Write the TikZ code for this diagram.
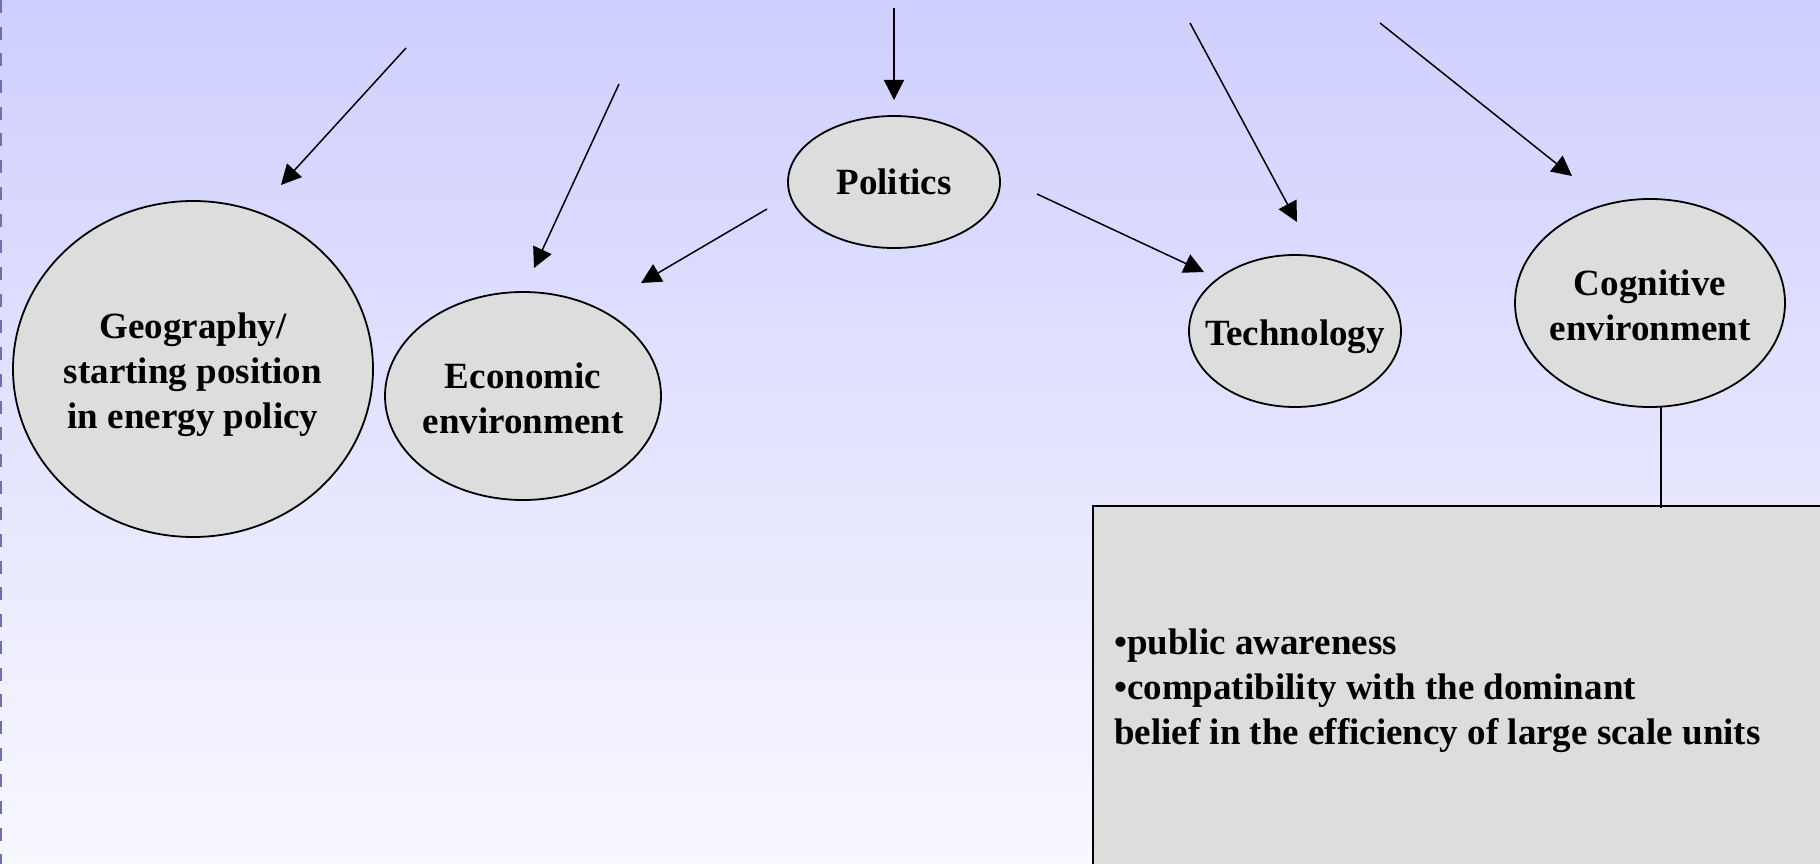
\documentclass[tikz,border=0pt]{standalone}
\usepackage{fontspec}
\setmainfont{Liberation Serif}
\usetikzlibrary{shapes.geometric,arrows.meta}

\definecolor{bgtop}{HTML}{CFCFFF}
\definecolor{bgbottom}{HTML}{F8F8FF}
\definecolor{nodefill}{HTML}{DDDDDD}
\definecolor{edgedash}{HTML}{7070B0}

\newcommand{\captionfont}{\bfseries\fontsize{37}{45}\selectfont}

\tikzset{
  factor/.style={ellipse, draw=black, line width=1.8pt, fill=nodefill,
    inner sep=0pt},
  factortext/.style={align=center, inner sep=0pt, font=\captionfont},
  influence/.style={line width=1.5pt,
    -{Triangle[length=20pt,width=20pt]}},
  plain/.style={line width=1.5pt},
}

\begin{document}
\begin{tikzpicture}[x=1pt,y=-1pt]
  \useasboundingbox (0,0) rectangle (1820,864);
  \clip (0,0) rectangle (1820,864);

  % background
  \shade[top color=bgtop, bottom color=bgbottom] (0,0) rectangle (1820,864);
  \draw[edgedash, line width=2.5pt, dash pattern=on 13pt off 13.7pt] (1.2,0) -- (1.2,864);

  % factors
  \node[factor, minimum width=360pt, minimum height=336pt,
        label={[factortext, yshift=-6pt]center:{Geography/\\starting position\\in energy policy}}]
        (geo) at (193,369) {};
  \node[factor, minimum width=276pt, minimum height=208pt,
        label={[factortext, yshift=-2pt]center:{Economic\\environment}}]
        (eco) at (523,396) {};
  \node[factor, minimum width=212pt, minimum height=132pt,
        label={[factortext]center:{Politics}}]
        (pol) at (894,182) {};
  \node[factor, minimum width=212pt, minimum height=152pt,
        label={[factortext, yshift=-5.5pt]center:{Technology}}]
        (tech) at (1295,331) {};
  \node[factor, minimum width=270pt, minimum height=208pt,
        label={[factortext, yshift=-2pt]center:{Cognitive\\environment}}]
        (cog) at (1650,303) {};

  % detail box for the cognitive environment
  \node[draw=black, line width=1.8pt, fill=nodefill, rectangle,
        minimum width=760pt, minimum height=400pt, anchor=north west,
        inner sep=0pt] (box) at (1092,505) {};
  \node[anchor=west, align=left, inner sep=0pt, font=\captionfont]
        (boxtext) at (1114,690.5)
    {•public awareness\\
     •compatibility with the dominant\\
     belief in the efficiency of large scale units};

  % arrow ends
  \coordinate (a1s) at (406,48);   \coordinate (a1e) at (281,185);
  \coordinate (a2s) at (619,84);   \coordinate (a2e) at (534,268);
  \coordinate (a3s) at (894,8);    \coordinate (a3e) at (894,100);
  \coordinate (a4s) at (1190,23);  \coordinate (a4e) at (1297,222);
  \coordinate (a5s) at (1380,23);  \coordinate (a5e) at (1572,176);
  \coordinate (a6s) at (767,209);  \coordinate (a6e) at (641,283);
  \coordinate (a7s) at (1037,194); \coordinate (a7e) at (1204,272);
  \coordinate (cogl) at (1661,407);

  \draw[influence] (a1s) -- (a1e);
  \draw[influence] (a2s) -- (a2e);
  \draw[influence] (a3s) -- (a3e);
  \draw[influence] (a4s) -- (a4e);
  \draw[influence] (a5s) -- (a5e);
  \draw[influence] (a6s) -- (a6e);
  \draw[influence] (a7s) -- (a7e);

  % link from the cognitive environment to its box
  \draw[plain] (cogl) -- ([yshift=-3pt]cogl |- box.north);
\end{tikzpicture}
\end{document}
